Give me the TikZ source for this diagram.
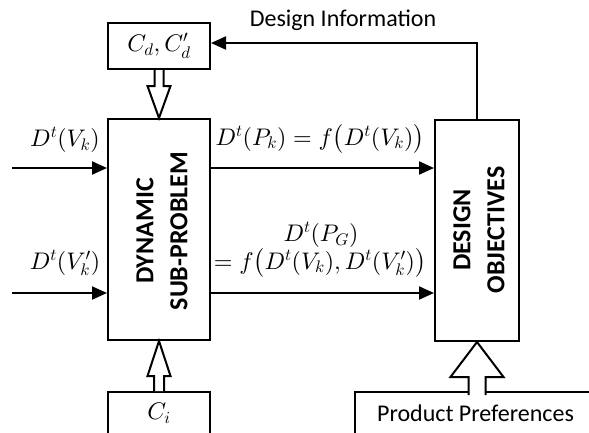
\documentclass[tikz,border=0pt]{standalone}
\usepackage{amsmath}
\usepackage{fontspec}
\setmainfont{Carlito}
\DeclareFontShape{OML}{cmm}{m}{it}{<->cmmi10}{}
\DeclareFontShape{OMS}{cmsy}{m}{n}{<->cmsy10}{}
\DeclareFontShape{OT1}{cmr}{m}{n}{<->cmr10}{}
\DeclareFontShape{OMX}{cmex}{m}{n}{<->cmex10}{}
\usetikzlibrary{arrows.meta,calc}
\begin{document}
\begin{tikzpicture}[x=1pt,y=-1pt,
  box/.style={draw,line width=2pt,inner sep=0pt,fill=white,font=\fontsize{24}{28}\selectfont},
  arr/.style={line width=2pt,-{Triangle[length=15pt,width=13pt]}},
  hollow/.style={line width=2pt,fill=white,line join=miter},
  lbl/.style={font=\fontsize{24}{28}\selectfont,inner sep=0pt},
  boldtxt/.style={font=\fontsize{26}{34}\selectfont\bfseries,align=center,rotate=90,inner sep=0pt}]
\clip (0,0) rectangle (589,432);
% boxes
\node[box,minimum width=102pt,minimum height=46pt] (cd) at (159,46) {$C_d, C_d'$};
\node[box,minimum width=102pt,minimum height=221pt] (dsp) at (159,229.5) {};
\node[boldtxt] (dsptxt) at (162,231) {DYNAMIC\\SUB-PROBLEM};
\node[box,minimum width=84pt,minimum height=221pt] (do) at (477,230.5) {};
\node[boldtxt] (dotxt) at (479,230) {DESIGN\\OBJECTIVES};
\node[box,minimum width=102pt,minimum height=42pt] (ci) at (159,413) {$C_i$};
\node[box,minimum width=241pt,minimum height=42pt] (pp) at (475.5,413) {Product Preferences};
% hollow arrows
\filldraw[hollow] ($(cd.south)+(-4.5,0)$) -- ++(0,16) -- ++(-7,0) -- (dsp.north)
  -- ($(cd.south)+(11.5,16)$) -- ++(-7,0) -- ($(cd.south)+(4.5,0)$);
\filldraw[hollow] ($(ci.north)+(-5,0)$) -- ++(0,-15) -- ++(-6.5,0) -- (dsp.south)
  -- ($(ci.north)+(11.5,-15)$) -- ++(-6.5,0) -- ($(ci.north)+(5,0)$);
\filldraw[hollow] ($(do.south)+(-8.5,53)$) -- ++(0,-18) -- ++(-18,0) -- (do.south)
  -- ($(do.south)+(26.5,35)$) -- ++(-18,0) -- ($(do.south)+(8.5,53)$);
% design information feedback
\draw[arr] (do.north) |- ([yshift=3pt]cd.east);
\node[lbl] (dinfo) at (343,20) {Design Information};
% inputs
\coordinate (in1) at (12,168);
\coordinate (in2) at (12,293);
\draw[arr] (in1) -- (in1 -| dsp.west);
\draw[arr] (in2) -- (in2 -| dsp.west);
\node[lbl] (lv) at (65,140) {$D^t(V_k)$};
\node[lbl] (lv2) at (65,263) {$D^t(V_k')$};
% outputs
\draw[arr] (in1 -| dsp.east) -- (in1 -| do.west);
\draw[arr] (in2 -| dsp.east) -- (in2 -| do.west);
\node[lbl] (lpk) at (320,139) {$D^t(P_k) = f\bigl(D^t(V_k)\bigr)$};
\node[lbl] (lpg) at (321,235) {$D^t(P_G)$};
\node[lbl] (lpg2) at (320,263) {$= f\bigl(D^t(V_k), D^t(V_k')\bigr)$};
\end{tikzpicture}
\end{document}
